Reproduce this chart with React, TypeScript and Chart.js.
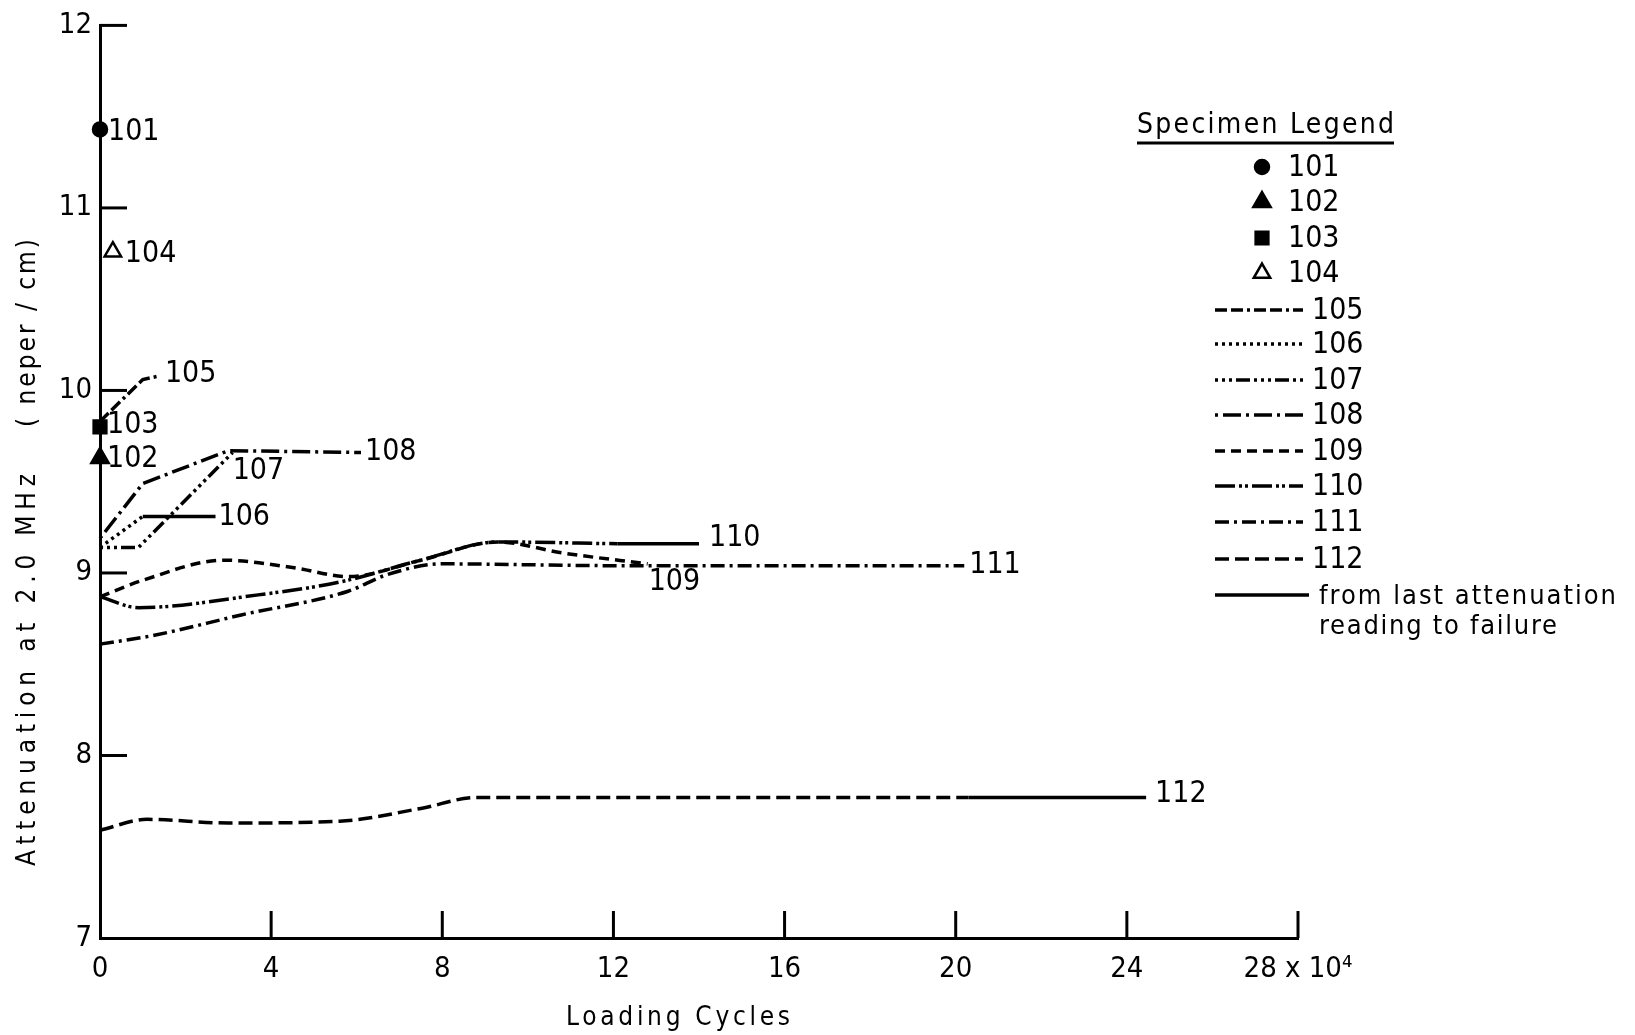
import React, { useEffect, useRef } from "react";
import { Chart, registerables } from "chart.js";

Chart.register(...registerables);

// ---------------- data ----------------
const X_TICKS = [0, 4, 8, 12, 16, 20, 24, 28];
const Y_TICKS = [7, 8, 9, 10, 11, 12];
const X_LAST_TICK_LABEL = "28 x 10⁴";
const X_TITLE = "Loading Cycles";
const Y_TITLE_A = "Attenuation at 2.0 MHz";
const Y_TITLE_B = "( neper / cm)";
const LEGEND_TITLE = "Specimen Legend";
const FAILURE_TEXT = ["from last attenuation", "reading to failure"];

const MARKER_NAMES = ["101", "102", "103", "104"];
const MARKER_X = [0, 0, 0, 0.3];
const MARKER_Y = [11.43, 9.63, 9.8, 10.76];

const S105_X = [0, 1.0, 1.4];
const S105_Y = [9.83, 10.06, 10.08];
const S106_X = [0, 1.0];
const S106_Y = [9.14, 9.31];
const S106_FAIL_X = [1.0, 2.7];
const S106_FAIL_Y = [9.31, 9.31];
const S107_X = [0, 0.9, 3.1];
const S107_Y = [9.14, 9.14, 9.66];
const S108_X = [0, 1.0, 3.0, 6.1];
const S108_Y = [9.19, 9.49, 9.67, 9.66];
const S109_X = [0, 1.0, 2.9, 4.5, 5.8, 7.5, 9.3, 10.8, 12.8];
const S109_Y = [8.87, 8.96, 9.07, 9.03, 8.98, 9.07, 9.17, 9.11, 9.05];
const S110_X = [0, 0.9, 3.7, 5.6, 7.5, 9.3, 12.1];
const S110_Y = [8.87, 8.81, 8.88, 8.95, 9.07, 9.17, 9.16];
const S110_FAIL_X = [12.1, 14.0];
const S110_FAIL_Y = [9.16, 9.16];
const S111_X = [0, 1.3, 3.3, 5.8, 6.7, 8.0, 12.0, 20.2];
const S111_Y = [8.61, 8.66, 8.77, 8.9, 8.99, 9.05, 9.04, 9.04];
const S112_X = [0, 1.1, 3.0, 5.6, 7.5, 8.8, 20.3];
const S112_Y = [7.59, 7.65, 7.63, 7.64, 7.71, 7.77, 7.77];
const S112_FAIL_X = [20.3, 24.45];
const S112_FAIL_Y = [7.77, 7.77];

const LINE_NAMES = ["105", "106", "107", "108", "109", "110", "111", "112"];

// ---------------- styles ----------------
const FONT = "'Liberation Sans Narrow', 'DejaVu Sans Condensed', 'Liberation Sans', sans-serif";
const INK = "#000";
const LINE_W = 3.5;

const DASH: Record<string, number[]> = {
  "105": [12, 4, 12, 4, 3, 4],
  "106": [3, 4],
  "107": [3, 4, 3, 4, 3, 4, 14, 4],
  "108": [3, 5, 18, 5],
  "109": [10, 6],
  "110": [20, 4, 3, 3, 3, 4],
  "111": [14, 5, 3, 5],
  "112": [14, 6],
};
const SMOOTH: Record<string, boolean> = {
  "105": false, "106": false, "107": false, "108": false,
  "109": true, "110": true, "111": true, "112": true,
};
const LABEL_OFFSET: Record<string, [number, number]> = {
  "101": [8, 3],
  "102": [7, 1],
  "103": [7, -2],
  "104": [12, 2],
  "105": [5, -2],
  "106": [3, 1],
  "107": [0, 19],
  "108": [4, 0],
  "109": [1, 18],
  "110": [10, -6],
  "111": [5, 0],
  "112": [9, -3],
};
const MARKER_STYLE: Record<string, { shape: string; r: number; fill: boolean }> = {
  "101": { shape: "circle", r: 7, fill: true },
  "102": { shape: "triangle", r: 10, fill: true },
  "103": { shape: "rect", r: 9, fill: true },
  "104": { shape: "triangle", r: 9.5, fill: false },
};

function pts(xs: number[], ys: number[]) {
  return xs.map((x, i) => ({ x, y: ys[i] }));
}

const SERIES: Record<string, { xs: number[]; ys: number[]; fx?: number[]; fy?: number[] }> = {
  "105": { xs: S105_X, ys: S105_Y },
  "106": { xs: S106_X, ys: S106_Y, fx: S106_FAIL_X, fy: S106_FAIL_Y },
  "107": { xs: S107_X, ys: S107_Y },
  "108": { xs: S108_X, ys: S108_Y },
  "109": { xs: S109_X, ys: S109_Y },
  "110": { xs: S110_X, ys: S110_Y, fx: S110_FAIL_X, fy: S110_FAIL_Y },
  "111": { xs: S111_X, ys: S111_Y },
  "112": { xs: S112_X, ys: S112_Y, fx: S112_FAIL_X, fy: S112_FAIL_Y },
};

function fitText(ctx: CanvasRenderingContext2D, text: string, x: number, y: number, font: string, width: number) {
  ctx.font = font;
  (ctx as any).letterSpacing = "0px";
  const w0 = ctx.measureText(text).width;
  const n = text.length;
  const sp = n > 1 ? (width - w0) / (n - 1) : 0;
  if (sp >= 0) {
    (ctx as any).letterSpacing = sp + "px";
    ctx.fillText(text, x, y);
  } else {
    ctx.save();
    ctx.translate(x, y);
    ctx.scale(width / w0, 1);
    ctx.fillText(text, 0, 0);
    ctx.restore();
  }
  (ctx as any).letterSpacing = "0px";
}

function drawMarker(ctx: CanvasRenderingContext2D, name: string, px: number, py: number) {
  const st = MARKER_STYLE[name];
  ctx.save();
  ctx.setLineDash([]);
  ctx.lineWidth = 2.5;
  ctx.strokeStyle = INK;
  ctx.fillStyle = st.fill ? INK : "#fff";
  ctx.beginPath();
  if (st.shape === "circle") {
    ctx.arc(px, py, st.r, 0, Math.PI * 2);
  } else if (st.shape === "rect") {
    const s = st.r * Math.SQRT1_2;
    ctx.rect(px - s, py - s, 2 * s, 2 * s);
  } else {
    const r = st.r;
    ctx.moveTo(px, py - r);
    ctx.lineTo(px + r * 0.866, py + r * 0.5);
    ctx.lineTo(px - r * 0.866, py + r * 0.5);
    ctx.closePath();
  }
  ctx.fill();
  ctx.stroke();
  ctx.restore();
}

const overlayPlugin = {
  id: "overlay",
  afterDraw(chart: any) {
    const { ctx, chartArea } = chart;
    const xs = chart.scales.x;
    const ys = chart.scales.y;
    ctx.save();
    ctx.strokeStyle = INK;
    ctx.fillStyle = INK;
    ctx.lineCap = "butt";

    // inward ticks
    ctx.lineWidth = 3;
    ctx.setLineDash([]);
    Y_TICKS.forEach((v) => {
      if (v === Y_TICKS[0]) return;
      const py = ys.getPixelForValue(v);
      ctx.beginPath();
      ctx.moveTo(chartArea.left, py);
      ctx.lineTo(chartArea.left + 27, py);
      ctx.stroke();
    });
    X_TICKS.forEach((v) => {
      if (v === X_TICKS[0]) return;
      const px = xs.getPixelForValue(v);
      ctx.beginPath();
      ctx.moveTo(px, chartArea.bottom);
      ctx.lineTo(px, chartArea.bottom - 27);
      ctx.stroke();
    });

    // markers (drawn here so they sit on top of the axis)
    MARKER_NAMES.forEach((name, i) => {
      drawMarker(ctx, name, xs.getPixelForValue(MARKER_X[i]), ys.getPixelForValue(MARKER_Y[i]));
    });

    // series labels
    ctx.textAlign = "left";
    ctx.textBaseline = "middle";
    ctx.font = `30px ${FONT}`;
    MARKER_NAMES.forEach((name, i) => {
      const [dx, dy] = LABEL_OFFSET[name];
      ctx.fillText(name, xs.getPixelForValue(MARKER_X[i]) + dx, ys.getPixelForValue(MARKER_Y[i]) + dy);
    });
    LINE_NAMES.forEach((name) => {
      const s = SERIES[name];
      const ex = s.fx ? s.fx[s.fx.length - 1] : s.xs[s.xs.length - 1];
      const ey = s.fy ? s.fy[s.fy.length - 1] : s.ys[s.ys.length - 1];
      const [dx, dy] = LABEL_OFFSET[name];
      ctx.fillText(name, xs.getPixelForValue(ex) + dx, ys.getPixelForValue(ey) + dy);
    });

    // axis titles
    fitText(ctx, X_TITLE, 566, 1018, `26px ${FONT}`, 224);
    ctx.save();
    ctx.translate(28, 866);
    ctx.rotate(-Math.PI / 2);
    fitText(ctx, Y_TITLE_A, 0, 0, `26px ${FONT}`, 392);
    ctx.restore();
    ctx.save();
    ctx.translate(28, 427);
    ctx.rotate(-Math.PI / 2);
    fitText(ctx, Y_TITLE_B, 0, 0, `26px ${FONT}`, 188);
    ctx.restore();

    // legend
    fitText(ctx, LEGEND_TITLE, 1137, 126, `28px ${FONT}`, 257);
    ctx.lineWidth = 3;
    ctx.setLineDash([]);
    ctx.beginPath();
    ctx.moveTo(1137, 143);
    ctx.lineTo(1394, 143);
    ctx.stroke();

    const markerRows = [167, 202, 238, 273];
    MARKER_NAMES.forEach((name, i) => {
      drawMarker(ctx, name, 1262, markerRows[i]);
      ctx.font = `30px ${FONT}`;
      ctx.fillText(name, 1288, markerRows[i] + 1);
    });
    const lineRows = [310, 344, 380, 415, 451, 486, 522, 559];
    LINE_NAMES.forEach((name, i) => {
      ctx.lineWidth = LINE_W;
      ctx.setLineDash(DASH[name]);
      ctx.beginPath();
      ctx.moveTo(1215, lineRows[i]);
      ctx.lineTo(1303, lineRows[i]);
      ctx.stroke();
      ctx.setLineDash([]);
      ctx.font = `30px ${FONT}`;
      ctx.fillText(name, 1312, lineRows[i] + 1);
    });
    ctx.lineWidth = LINE_W;
    ctx.setLineDash([]);
    ctx.beginPath();
    ctx.moveTo(1215, 595);
    ctx.lineTo(1309, 595);
    ctx.stroke();
    fitText(ctx, FAILURE_TEXT[0], 1319, 597, `27px ${FONT}`, 297);
    fitText(ctx, FAILURE_TEXT[1], 1319, 627, `27px ${FONT}`, 238);

    ctx.restore();
  },
};

export default function App() {
  const ref = useRef<HTMLCanvasElement | null>(null);

  useEffect(() => {
    const canvas = ref.current;
    if (!canvas) return;

    const datasets: any[] = [];
    LINE_NAMES.forEach((name) => {
      const s = SERIES[name];
      datasets.push({
        type: "line",
        label: name,
        data: pts(s.xs, s.ys),
        borderColor: INK,
        borderWidth: LINE_W,
        borderDash: DASH[name],
        pointRadius: 0,
        fill: false,
        clip: false,
        tension: SMOOTH[name] ? 0.4 : 0,
        cubicInterpolationMode: SMOOTH[name] ? "monotone" : "default",
      });
      if (s.fx && s.fy) {
        datasets.push({
          type: "line",
          label: name + " to failure",
          data: pts(s.fx, s.fy),
          borderColor: INK,
          borderWidth: LINE_W,
          pointRadius: 0,
          fill: false,
          clip: false,
          tension: 0,
        });
      }
    });

    const tickFont = { family: FONT, size: 29 };

    const chart = new Chart(canvas, {
      type: "scatter",
      data: { datasets },
      options: {
        animation: false,
        responsive: false,
        maintainAspectRatio: false,
        layout: { padding: { left: 0, right: 337, top: 20, bottom: 0 } },
        plugins: { legend: { display: false }, tooltip: { enabled: false } },
        scales: {
          x: {
            type: "linear",
            min: 0,
            max: 28,
            afterBuildTicks: (axis: any) => {
              axis.ticks = X_TICKS.map((v) => ({ value: v }));
            },
            afterFit: (axis: any) => {
              axis.height = 97;
            },
            grid: { display: false, drawTicks: false },
            border: { display: true, color: INK, width: 3 },
            ticks: {
              font: tickFont,
              color: INK,
              padding: 14,
              autoSkip: false,
              maxRotation: 0,
              minRotation: 0,
              callback: (v: any) => (Number(v) === 28 ? X_LAST_TICK_LABEL : String(v)),
            },
          },
          y: {
            type: "linear",
            min: 7,
            max: 12,
            afterBuildTicks: (axis: any) => {
              axis.ticks = Y_TICKS.map((v) => ({ value: v }));
            },
            afterFit: (axis: any) => {
              axis.width = 100;
            },
            grid: { display: false, drawTicks: false },
            border: { display: true, color: INK, width: 3 },
            ticks: {
              font: tickFont,
              color: INK,
              padding: 8,
              autoSkip: false,
              callback: (v: any) => String(v),
            },
          },
        },
      } as any,
      plugins: [overlayPlugin],
    });

    return () => {
      chart.destroy();
    };
  }, []);

  return (
    <div style={{ position: "absolute", left: 0, top: 0, width: 1635, height: 1035, background: "#fff" }}>
      <canvas ref={ref} width={1635} height={1035} style={{ display: "block", width: 1635, height: 1035 }} />
    </div>
  );
}
